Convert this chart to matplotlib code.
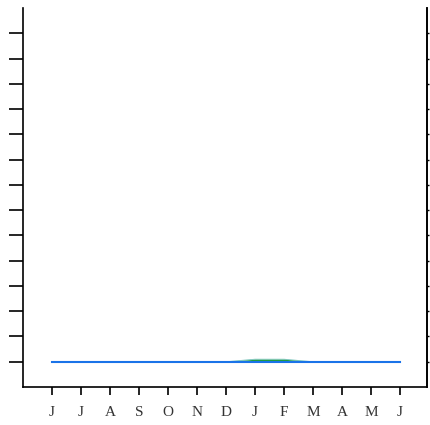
import numpy as np
import matplotlib
matplotlib.use("Agg")
import matplotlib.pyplot as plt

# ── Data ─────────────────────────────────────────────────────────────
months = ["J", "J", "A", "S", "O", "N", "D", "J", "F", "M", "A", "M", "J"]
base_series = [0, 0, 0, 0, 0, 0, 0, 0, 0, 0, 0, 0, 0]
bump_series = [0, 0, 0, 0, 0, 0, 0, 0.1, 0.1, 0, 0, 0, 0]
y_ticks = list(range(14))

x = np.arange(len(months))

fig = plt.figure(figsize=(4.3, 4.25), dpi=100)
ax = fig.add_axes([23 / 430, 38 / 425, 404 / 430, 379 / 425])

ax.fill_between(x, base_series, bump_series, color="#1e9c3c", lw=0)
ax.plot(x, bump_series, color="#1a9a8a", lw=0.6, alpha=0.6)
ax.plot(x, base_series, color="#1a73e8", lw=1.5)

ax.set_xlim(-1, 12.93)
ax.set_ylim(-1, 14)
ax.set_xticks(x)
ax.set_xticklabels(months, family="Liberation Serif", fontsize=11,
                   color="#333333")
ax.set_yticks(y_ticks)
ax.set_yticklabels([])

ax.spines["top"].set_visible(False)
for s in ["left", "bottom", "right"]:
    ax.spines[s].set_linewidth(1.2)

ax.tick_params(axis="y", direction="out", length=10, width=1.2)
ax.tick_params(axis="x", direction="out", length=6, width=1.2, pad=8)

# tiny outward dots on the right axis
sec = ax.secondary_yaxis("right")
sec.set_yticks(y_ticks)
sec.set_yticklabels([])
sec.tick_params(direction="out", length=1.5, width=1)
sec.spines["right"].set_linewidth(1.2)

fig.savefig("out.png", dpi=100)
